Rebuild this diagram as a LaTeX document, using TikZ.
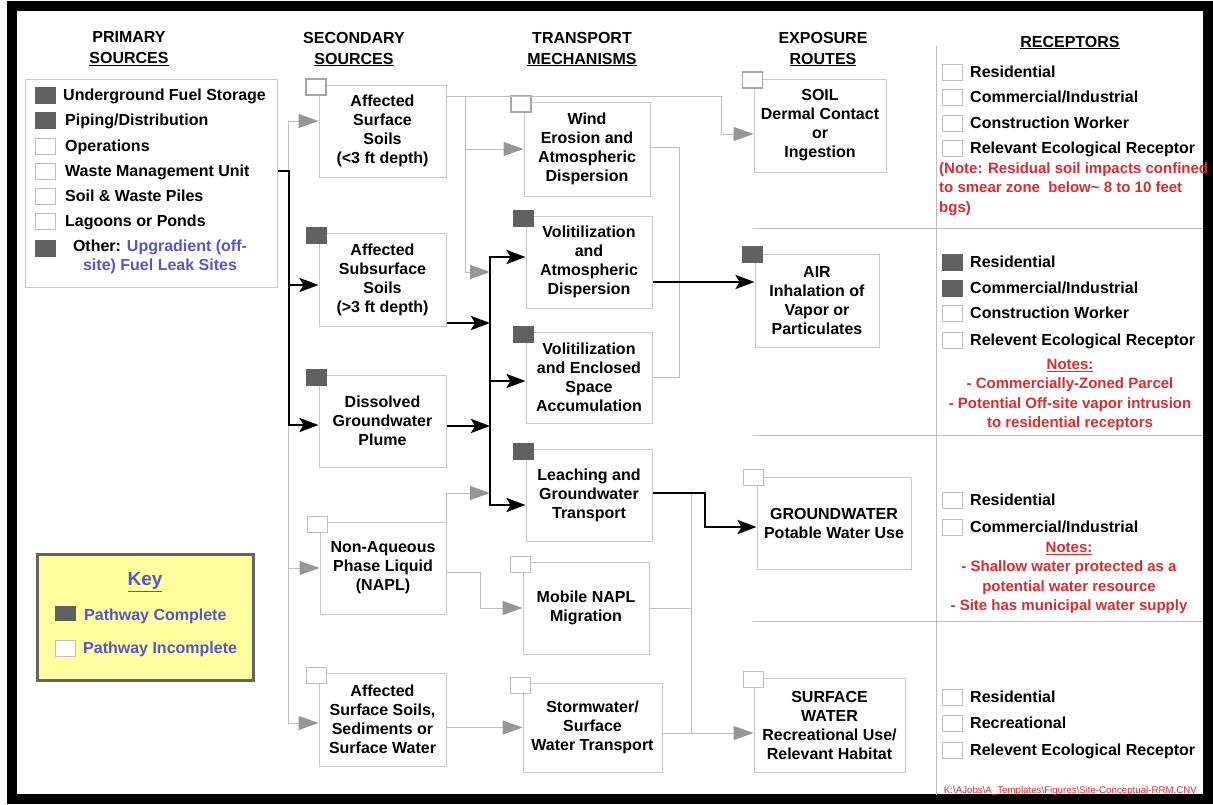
\documentclass[tikz,border=0pt]{standalone}
\usepackage{fontspec}
\setmainfont{Liberation Sans}
\usetikzlibrary{arrows.meta, positioning}

\definecolor{boxline}{RGB}{200,200,200}
\definecolor{mkline}{RGB}{190,190,190}
\definecolor{mkdark}{RGB}{96,96,96}
\definecolor{lnkgray}{RGB}{190,190,190}
\definecolor{tipgray}{RGB}{150,150,150}
\definecolor{notered}{RGB}{215,45,50}
\definecolor{keyblue}{RGB}{85,85,205}
\definecolor{keyfill}{RGB}{255,255,160}
\definecolor{keyline}{RGB}{100,100,100}

\begin{document}
\begin{tikzpicture}[
  x=1pt, y=-1pt,
  font=\bfseries\fontsize{16}{19}\selectfont,
  box/.style={draw=boxline, fill=white, line width=1pt, align=center, inner sep=0pt},
  mk/.style={draw=mkline, fill=white, line width=1pt, minimum width=20pt, minimum height=16pt, inner sep=0pt},
  mkb/.style={mk, draw=gray!70, line width=1.8pt},
  mkfull/.style={mk, draw=mkdark, fill=mkdark},
  item/.style={anchor=west, inner sep=0pt, text height=11.5pt, text depth=0pt},
  hdr/.style={align=center, inner sep=0pt, font=\bfseries\fontsize{16}{21}\selectfont},
  note/.style={text=notered, align=center, inner sep=0pt, font=\bfseries\fontsize{15}{19.5}\selectfont},
  sep/.style={draw=lnkgray, line width=1pt},
  bl/.style={line width=2.6pt},
  blk/.style={bl, -{Stealth[length=19pt, width=14pt, inset=4pt]}},
  gln/.style={draw=lnkgray, line width=1pt},
  garr/.style={gln, -{Triangle[length=20pt, width=14pt, color=tipgray]}}
]
\useasboundingbox (0,0) rectangle (1213,804);
\fill[white] (0,0) rectangle (1213,804);
\draw[line width=10pt] (12,6) rectangle (1208,799);

% column headings
\node[hdr] (h1) at (129,49) {PRIMARY\\\underline{SOURCES}};
\node[hdr] (h2) at (354,49) {SECONDARY\\\underline{SOURCES}};
\node[hdr] (h3) at (582,49) {TRANSPORT\\\underline{MECHANISMS}};
\node[hdr] (h4) at (823,49) {EXPOSURE\\\underline{ROUTES}};
\node[hdr] (h5) at (1070,42.5) {\underline{RECEPTORS}};

% primary sources
\node[box, minimum width=252pt, minimum height=208pt] (prim) at (151,183) {};
\node[mkfull] (q1) at (45,95) {};
\node[item] (p1) at (63,95) {Underground Fuel Storage};
\node[mkfull] (q2) at (45,120) {};
\node[item] (p2) at (65,120) {Piping/Distribution};
\node[mk] (q3) at (45,146) {};
\node[item] (p3) at (65,146) {Operations};
\node[mk] (q4) at (45,171) {};
\node[item] (p4) at (65,171) {Waste Management Unit};
\node[mk] (q5) at (45,196) {};
\node[item] (p5) at (65,196) {Soil \& Waste Piles};
\node[mk] (q6) at (45,221) {};
\node[item] (p6) at (65,221) {Lagoons or Ponds};
\node[mkfull] (q7) at (45,248) {};
\node[align=center, inner sep=0pt] (p7) at (160,257) {Other: \textcolor{keyblue}{Upgradient (off-}\\\textcolor{keyblue}{site) Fuel Leak Sites}};

% secondary sources
\node[box, minimum width=127pt, minimum height=92pt] (s1) at (382.5,131) {Affected\\Surface\\Soils\\(<3 ft depth)};
\node[box, minimum width=127pt, minimum height=93pt] (s2) at (382.5,279.5) {Affected\\Subsurface\\Soils\\(>3 ft depth)};
\node[box, minimum width=127pt, minimum height=92pt] (s3) at (382.5,421) {Dissolved\\Groundwater\\Plume};
\node[box, minimum width=126pt, minimum height=92pt] (s4) at (383,568) {Non-Aqueous\\Phase Liquid\\(NAPL)};
\node[box, minimum width=127pt, minimum height=93pt] (s5) at (382.5,719.5) {Affected\\Surface Soils,\\Sediments or\\Surface Water};
\node[mkb] (s1m) at ([xshift=-2.5pt, yshift=-2.5pt]s1.north west) {};
\node[mkfull] (s2m) at ([xshift=-2.5pt, yshift=-2.5pt]s2.north west) {};
\node[mkfull] (s3m) at ([xshift=-2.5pt, yshift=-2.5pt]s3.north west) {};
\node[mk] (s4m) at ([xshift=-2.5pt, yshift=-2.5pt]s4.north west) {};
\node[mk] (s5m) at ([xshift=-2.5pt, yshift=-2.5pt]s5.north west) {};

% transport mechanisms
\node[box, minimum width=126pt, minimum height=94pt] (t1) at (587,149) {Wind\\Erosion and\\Atmospheric\\Dispersion};
\node[box, minimum width=126pt, minimum height=92pt] (t2) at (589,262) {Volitilization\\and\\Atmospheric\\Dispersion};
\node[box, minimum width=126pt, minimum height=91pt] (t3) at (589,377.5) {Volitilization\\and Enclosed\\Space\\Accumulation};
\node[box, minimum width=126pt, minimum height=92pt] (t4) at (589,495) {Leaching and\\Groundwater\\Transport};
\node[box, minimum width=126pt, minimum height=92pt] (t5) at (586,608) {Mobile NAPL\\Migration};
\node[box, minimum width=139pt, minimum height=89pt] (t6) at (592.5,727.5) {Stormwater/\\Surface\\Water Transport};
\node[mkb] (t1m) at ([xshift=-2.5pt, yshift=-2.5pt]t1.north west) {};
\node[mkfull] (t2m) at ([xshift=-2.5pt, yshift=-2.5pt]t2.north west) {};
\node[mkfull] (t3m) at ([xshift=-2.5pt, yshift=-2.5pt]t3.north west) {};
\node[mkfull] (t4m) at ([xshift=-2.5pt, yshift=-2.5pt]t4.north west) {};
\node[mk] (t5m) at ([xshift=-2.5pt, yshift=-2.5pt]t5.north west) {};
\node[mk] (t6m) at ([xshift=-2.5pt, yshift=-2.5pt]t6.north west) {};

% exposure routes
\node[box, minimum width=132pt, minimum height=93pt] (e1) at (820,125.5) {SOIL\\Dermal Contact\\or\\Ingestion};
\node[box, minimum width=124pt, minimum height=93pt] (e2) at (817,300.5) {AIR\\Inhalation of\\Vapor or\\Particulates};
\node[box, minimum width=154pt, minimum height=92pt] (e3) at (834,523) {GROUNDWATER\\Potable Water Use};
\node[box, minimum width=151pt, minimum height=94pt] (e4) at (829.5,725) {SURFACE\\WATER\\Recreational Use/\\Relevant Habitat};
\node[mkb] (e1m) at ([xshift=-1pt, yshift=-1.5pt]e1.north west) {};
\node[mkfull] (e2m) at ([xshift=-2pt, yshift=-0.5pt]e2.north west) {};
\node[mk] (e3m) at ([xshift=-3pt, yshift=-0.5pt]e3.north west) {};
\node[mk] (e4m) at ([xshift=0pt, yshift=-1.5pt]e4.north west) {};

% receptors
\draw[sep] (936,46) -- (936,795);
\draw[sep] (753,228) -- (1203,228);
\draw[sep] (753,435) -- (1203,435);
\draw[sep] (753,621) -- (1203,621);

\node[mk] (r1a) at (952,72) {};
\node[item] (r1at) at (970,72) {Residential};
\node[mk] (r1b) at (952,97) {};
\node[item] (r1bt) at (970,97) {Commercial/Industrial};
\node[mk] (r1c) at (952,123) {};
\node[item] (r1ct) at (970,123) {Construction Worker};
\node[mk] (r1d) at (952,148) {};
\node[item] (r1dt) at (970,148) {Relevant Ecological Receptor};
\node[note, align=left, anchor=north west] (n1) at (939,162) {(Note: Residual soil impacts confined\\to smear zone \ below\textasciitilde\ 8 to 10 feet\\bgs)};

\node[mkfull] (r2a) at (952,262) {};
\node[item] (r2at) at (970,262) {Residential};
\node[mkfull] (r2b) at (952,288) {};
\node[item] (r2bt) at (970,288) {Commercial/Industrial};
\node[mk] (r2c) at (952,313) {};
\node[item] (r2ct) at (970,313) {Construction Worker};
\node[mk] (r2d) at (952,340) {};
\node[item] (r2dt) at (970,340) {Relevent Ecological Receptor};
\node[note] (n2) at (1070,395) {\underline{Notes:}\\- Commercially-Zoned Parcel\\- Potential Off-site vapor intrusion\\to residential receptors};

\node[mk] (r3a) at (952,500) {};
\node[item] (r3at) at (970,500) {Residential};
\node[mk] (r3b) at (952,527) {};
\node[item] (r3bt) at (970,527) {Commercial/Industrial};
\node[note] (n3) at (1069,578) {\underline{Notes:}\\- Shallow water protected as a\\potential water resource\\- Site has municipal water supply};

\node[mk] (r4a) at (952,697) {};
\node[item] (r4at) at (970,697) {Residential};
\node[mk] (r4b) at (952,723) {};
\node[item] (r4bt) at (970,723) {Recreational};
\node[mk] (r4c) at (952,750) {};
\node[item] (r4ct) at (970,750) {Relevent Ecological Receptor};

\node[anchor=east, inner sep=0pt, text=notered, font=\mdseries\fontsize{9.7}{11}\selectfont] (foot) at (1197,791) {K:\textbackslash AJobs\textbackslash A\_Templates\textbackslash Figures\textbackslash Site-Conceptual-RRM.CNV};

% key
\node[draw=keyline, fill=keyfill, line width=3pt, minimum width=216pt, minimum height=126pt] (key) at (145.5,617.5) {};
\node[text=keyblue, inner sep=0pt, font=\bfseries\fontsize{19}{22}\selectfont] (keyt) at (145,582) {\underline{Key}};
\node[mkfull, minimum height=14pt] (k1) at (65,613) {};
\node[item, text=keyblue] (k1t) at (84,615) {Pathway Complete};
\node[mk] (k2) at (65,648) {};
\node[item, text=keyblue] (k2t) at (83,648) {Pathway Incomplete};

% gray (incomplete) pathways
\coordinate (pa) at (288,121);
\coordinate (pb) at (288,723);
\draw[gln] (pa) -- (pb);
\draw[garr] (pa) -- (pa -| s1.west);
\draw[garr] (pa |- s4.west) -- (s4.west);
\draw[garr] (pb) -- (pb -| s5.west);

\coordinate (g1) at (465,96);
\coordinate (g2) at (721,96);
\coordinate (g3) at (465,272);
\coordinate (gb) at (490,272);
\draw[garr] (s1.east |- g1) -- (g2) |- ([yshift=-8.5pt]e1.west);
\draw[gln] (g1) -- (g3);
\draw[garr] (g1 |- t1.west) -- (t1.west);
\draw[garr] (g3) -- (gb);

\coordinate (gn) at (490,493);
\draw[garr] (s4.north east) -- (s4.north east |- gn) -- (gn);
\coordinate (nm) at (480,572);
\draw[garr] (s4.east |- nm) -- (nm) |- (t5.west);
\draw[garr] (s5.east |- t6.west) -- (t6.west);

\coordinate (wr) at (679,147);
\draw[gln] (t1.east |- wr) -- (wr) |- (t3.east);

\coordinate (cg) at (691,493);
\coordinate (cs) at (691,733);
\draw[gln] (cg) -- (cs);
\draw[gln] (t5.east) -- (t5.east -| cg);
\draw[garr] (t6.east |- cs) -- (cs -| e4.west);

% black (complete) pathways
\coordinate (pw) at (289,171);
\coordinate (ps) at (289,285);
\coordinate (pd) at (289,425);
\draw[blk] (prim.east |- pw) -- (pw) -- (pd) -- (pd -| s3.west);
\draw[blk] (ps) -- (ps -| s2.west);

\coordinate (b1) at (490,257);
\coordinate (b2) at (490,323);
\coordinate (b3) at (490,381);
\coordinate (b4) at (490,426);
\coordinate (b5) at (490,505);
\draw[blk] (b5) -- (b1) -- (b1 -| t2.west);
\draw[blk] (b1) -- (b5) -- (b5 -| t4.west);
\draw[blk] (b3) -- (b3 -| t3.west);
\draw[blk] (s2.east |- b2) -- (b2);
\draw[blk] (s3.east |- b4) -- (b4);

\coordinate (ya) at (700,282);
\draw[blk] (t2.east |- ya) -- (ya -| e2.west);

\coordinate (lg) at (705,493);
\coordinate (lg2) at (705,527);
\draw[blk] (t4.east |- lg) -- (lg) -- (lg2) -- (lg2 -| e3.west);
\end{tikzpicture}
\end{document}
